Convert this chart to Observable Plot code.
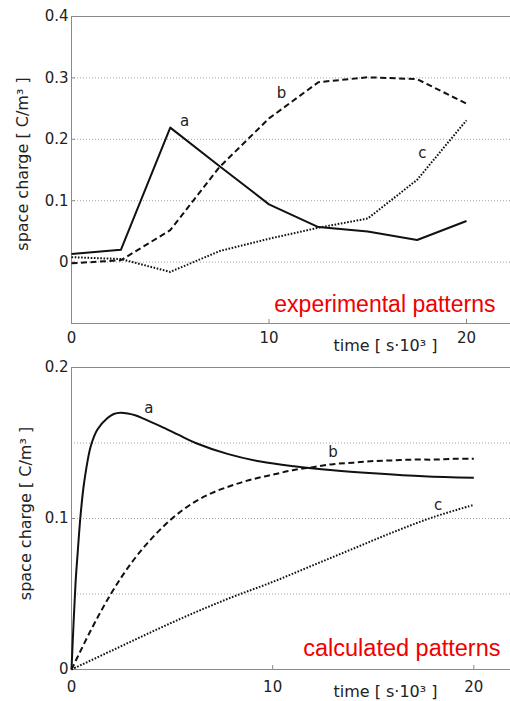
<!DOCTYPE html>
<html>
<head>
<meta charset="utf-8">
<script src="https://cdn.jsdelivr.net/npm/d3@7"></script>
<script src="https://cdn.jsdelivr.net/npm/@observablehq/plot@0.6"></script>
<style>
  html, body { margin: 0; padding: 0; background: white; }
  #wrap { position: relative; width: 510px; height: 701px; overflow: hidden; }
  #wrap svg { position: absolute; left: 0; overflow: visible; background: transparent; }
</style>
</head>
<body>
<div id="wrap"></div>
<script>
// ---- experimental (top panel) ----
const expTime = [0, 2.5, 5, 7.5, 10, 12.5, 15, 17.5, 20];
const expA = [0.013, 0.020, 0.219, 0.156, 0.094, 0.057, 0.050, 0.036, 0.067];
const expB = [-0.002, 0.003, 0.052, 0.155, 0.234, 0.293, 0.301, 0.298, 0.258];
const expC = [0.008, 0.005, -0.016, 0.018, 0.038, 0.056, 0.071, 0.134, 0.231];
const expYTicks = [0, 0.1, 0.2, 0.3, 0.4];
const expGrid = [0, 0.1, 0.2, 0.3];
const expLabelNames = ["a", "b", "c"];
const expLabelX = [5.72, 10.63, 17.77];
const expLabelY = [0.229, 0.275, 0.177];

// ---- calculated (bottom panel) ----
const calcTimeA = [0, 0.1, 0.2, 0.3, 0.45, 0.63, 0.96, 1.29, 1.79, 2.1, 2.45, 2.8, 3.2, 3.61, 4.44, 5.3, 6.17, 7.75, 9.4, 11.06, 13, 15, 17.5, 20];
const calcA = [0, 0.03, 0.057, 0.076, 0.102, 0.124, 0.148, 0.159, 0.1665, 0.1692, 0.170, 0.1695, 0.1682, 0.166, 0.161, 0.1555, 0.150, 0.1428, 0.1377, 0.1346, 0.132, 0.130, 0.128, 0.127];
const calcTimeB = [0, 1, 2, 3, 4, 5, 6, 7, 8, 9, 10, 11, 12, 13, 14, 15, 16, 17, 18, 19, 20];
const calcB = [0, 0.027, 0.051, 0.071, 0.087, 0.100, 0.110, 0.117, 0.122, 0.126, 0.129, 0.132, 0.134, 0.136, 0.137, 0.138, 0.1385, 0.139, 0.139, 0.1395, 0.1395];
const calcTimeC = [0, 2, 4, 6, 8, 10, 12, 14, 16, 18, 20];
const calcC = [0, 0.0125, 0.025, 0.037, 0.048, 0.058, 0.069, 0.080, 0.091, 0.101, 0.109];
const calcYTicks = [0, 0.1, 0.2];
const calcGrid = [0.05, 0.1, 0.15];
const calcLabelNames = ["a", "b", "c"];
const calcLabelX = [3.85, 13.0, 18.23];
const calcLabelY = [0.173, 0.144, 0.109];

const xTicks = [0, 10, 20];
const yLabel = "space charge [ C/m³ ]";
const xLabel = "time [ s·10³ ]";

const styles = {
  a: {strokeDasharray: null},
  b: {strokeDasharray: "6,3.5"},
  c: {strokeDasharray: "1.6,1.6"}
};

function series(name, t, v) {
  return t.map((d, i) => ({series: name, time: d, value: v[i]}));
}

function panel(opts) {
  const lineMarks = opts.lines.map(s =>
    Plot.line(s.data, {
      x: "time", y: "value", stroke: "#111", strokeWidth: 2,
      strokeDasharray: styles[s.name].strokeDasharray,
      curve: opts.curve, strokeLinejoin: "round", strokeLinecap: "butt"
    })
  );
  const labels = opts.labelNames.map((n, i) => ({n, x: opts.labelX[i], y: opts.labelY[i]}));
  return Plot.plot({
    width: 510,
    height: opts.height,
    marginLeft: opts.ml,
    marginRight: 0,
    marginTop: opts.mt,
    marginBottom: opts.mb,
    style: {fontFamily: "'DejaVu Sans', sans-serif", background: "transparent", overflow: "visible"},
    x: {domain: [0, opts.xMax]},
    y: {domain: opts.yDomain},
    marks: [
      Plot.ruleY(opts.grid, {stroke: "#9a9a9a", strokeDasharray: "1,2", strokeWidth: 0.9}),
      Plot.ruleY([opts.yDomain[1]], {stroke: "#8a8a8a", strokeWidth: 1}),
      Plot.ruleY([opts.yDomain[0]], {stroke: "#8a8a8a", strokeWidth: 1}),
      Plot.ruleX([0], {stroke: "#8a8a8a", strokeWidth: 1}),
      Plot.axisY(opts.yTicks, {
        tickSize: -4, tickPadding: 7, stroke: "#8a8a8a", fill: "#222",
        fontSize: 15, label: null,
        tickFormat: d => d === 0 ? "0" : d.toFixed(1)
      }),
      Plot.axisX(xTicks, {
        tickSize: -4, tickPadding: opts.xPad, stroke: "#8a8a8a", fill: "#222",
        fontSize: 15, label: null, tickFormat: d => String(d)
      }),
      Plot.text([yLabel], {
        frameAnchor: "left", dx: -opts.yLabelOff, rotate: -90,
        fontSize: 16, fill: "#222", textAnchor: "middle", dy: opts.yLabelDy
      }),
      Plot.text([xLabel], {
        frameAnchor: "bottom-right", dx: -125, dy: opts.xLabelDy,
        fontSize: 16, fill: "#222", textAnchor: "middle", lineAnchor: "middle"
      }),
      ...lineMarks,
      Plot.text(labels, {x: "x", y: "y", text: "n", fontSize: 15, fill: "#222"}),
      Plot.text([opts.note], {
        frameAnchor: "bottom-right", dx: opts.noteDx, dy: opts.noteDy,
        fontSize: opts.noteSize, fill: "#f00000", textAnchor: "end", lineAnchor: "bottom",
        fontFamily: "'Liberation Sans', Arial, sans-serif"
      })
    ]
  });
}

const topPanel = panel({
  height: 350, ml: 71, mt: 16, mb: 27, xMax: (510 - 71) / 19.75,
  yDomain: [-0.1, 0.4], yTicks: expYTicks, grid: expGrid,
  lines: [
    {name: "a", data: series("a", expTime, expA)},
    {name: "b", data: series("b", expTime, expB)},
    {name: "c", data: series("c", expTime, expC)}
  ],
  curve: "linear",
  labelNames: expLabelNames, labelX: expLabelX, labelY: expLabelY,
  note: "experimental patterns", noteDx: -15, noteDy: -12, noteSize: 23,
  xPad: 13, yLabelOff: 49, yLabelDy: -6, xLabelDy: 22
});

const bottomPanel = panel({
  height: 351, ml: 71, mt: 17, mb: 32, xMax: (510 - 70.7) / 20.13,
  yDomain: [0, 0.2], yTicks: calcYTicks, grid: calcGrid,
  lines: [
    {name: "a", data: series("a", calcTimeA, calcA)},
    {name: "b", data: series("b", calcTimeB, calcB)},
    {name: "c", data: series("c", calcTimeC, calcC)}
  ],
  curve: "catmull-rom",
  labelNames: calcLabelNames, labelX: calcLabelX, labelY: calcLabelY,
  note: "calculated patterns", noteDx: -10, noteDy: -14, noteSize: 23.5,
  xPad: 16, yLabelOff: 46, yLabelDy: -5, xLabelDy: 22
});

const wrap = document.getElementById("wrap");
bottomPanel.style.top = "350px";
topPanel.style.top = "0px";
wrap.appendChild(bottomPanel);
wrap.appendChild(topPanel);
</script>
</body>
</html>
